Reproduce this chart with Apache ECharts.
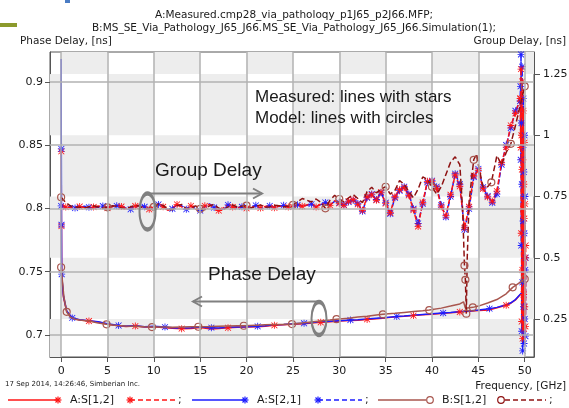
<!DOCTYPE html>
<html>
<head>
<meta charset="utf-8">
<title>Phase and group delay</title>
<script src="https://cdn.jsdelivr.net/npm/echarts@6/dist/echarts.min.js"></script>
<style>
  html, body { margin: 0; padding: 0; background: #fff; }
  #chart { width: 569px; height: 408px; }
</style>
</head>
<body>
<div id="chart"></div>
<script>
// tick labels
const xTicks = [0, 5, 10, 15, 20, 25, 30, 35, 40, 45, 50];
const phaseTicks = [0.7, 0.75, 0.8, 0.85, 0.9];
const groupTicks = [0.25, 0.5, 0.75, 1, 1.25];

// phase delay, measured (A) - left axis
const phaseFreqA = [0, 0.02, 0.04, 0.06, 0.25, 0.6, 1.2, 2, 3, 4, 5,
  6.2, 7, 8, 9, 10, 11.2, 12, 13, 14, 15, 16.2, 17, 18, 19, 20,
  21.2, 22, 23, 24, 25, 26.2, 27, 28, 29, 30, 31.2, 32, 33, 34, 35,
  36.2, 37, 38, 39, 40, 41.2, 42, 43, 44, 45, 46.2, 47, 48, 48.5, 49, 49.5, 50];
const phaseA21 = [0.918, 0.847, 0.787, 0.748, 0.731, 0.719, 0.7135, 0.712, 0.7112, 0.7105, 0.7088,
  0.7075, 0.707, 0.7072, 0.7065, 0.7068, 0.7062, 0.7058, 0.7053, 0.7057, 0.7062,
  0.7058, 0.7055, 0.706, 0.7063, 0.7065, 0.7068, 0.7073, 0.708, 0.7083, 0.7088,
  0.7092, 0.7098, 0.7104, 0.7108, 0.7113, 0.7118, 0.712, 0.7126, 0.7132, 0.7138,
  0.7146, 0.715, 0.7156, 0.7162, 0.7167, 0.7174, 0.7178, 0.7185, 0.719, 0.7197,
  0.7208, 0.7218, 0.7238, 0.7254, 0.728, 0.732, 0.736];
const phaseA12 = [0.845, 0.845, 0.786, 0.747, 0.730, 0.7185, 0.7132, 0.7118, 0.7110, 0.7102, 0.7085,
  0.7072, 0.7066, 0.7070, 0.7062, 0.7064, 0.7058, 0.7054, 0.7050, 0.7052, 0.7058,
  0.7048, 0.7051, 0.7057, 0.7060, 0.7062, 0.7064, 0.7069, 0.7076, 0.7080, 0.7085,
  0.7089, 0.7095, 0.7100, 0.7105, 0.7110, 0.7115, 0.7117, 0.7123, 0.7129, 0.7135,
  0.7143, 0.7147, 0.7153, 0.7159, 0.7164, 0.7171, 0.7175, 0.7182, 0.7187, 0.7194,
  0.7198, 0.7215, 0.7235, 0.7251, 0.7277, 0.7317, 0.7355];

// phase delay, model (B)
const phaseFreqB = [0, 0.3, 0.6, 1, 1.5, 2, 3, 4, 4.9, 6, 7, 8, 9, 9.8, 11, 12, 13, 14, 14.8,
  16, 17, 18, 19, 19.7, 21, 22, 23, 24, 24.9, 26, 27, 28, 29, 29.7, 31, 32, 33, 34, 34.7,
  36, 37, 38, 39, 39.7, 41, 42, 43, 43.4, 43.6, 44.4, 45, 46, 47, 48, 48.7, 49.5, 50];
const phaseB12 = [0.7535, 0.730, 0.7183, 0.714, 0.7125, 0.7118, 0.711, 0.7095, 0.7084,
  0.7075, 0.707, 0.7068, 0.7064, 0.7062, 0.7063, 0.706, 0.7062, 0.7064, 0.7065,
  0.7066, 0.7068, 0.707, 0.7072, 0.7073, 0.7077, 0.708, 0.7082, 0.7084, 0.7086,
  0.7095, 0.7103, 0.711, 0.7118, 0.7125, 0.7133, 0.7141, 0.7148, 0.7157, 0.7163,
  0.7171, 0.7178, 0.7185, 0.7192, 0.7197, 0.7212, 0.7228, 0.7245, 0.7262, 0.7212, 0.7218, 0.7228,
  0.7252, 0.728, 0.7325, 0.7376, 0.7415, 0.7442];
const modelMarksPhase = [0, 0.6, 4.9, 9.8, 14.8, 19.7, 24.9, 29.7, 34.7, 39.7, 44.4, 48.7, 50];

// group delay, measured (A) - right axis
const groupFreqA = [0, 0.5, 1, 1.5, 2, 2.5, 3, 3.5, 4, 4.5, 5, 5.5, 6, 6.5, 7, 7.5, 8, 8.5, 9, 9.5,
  10, 10.5, 11, 11.5, 12, 12.5, 13, 13.5, 14, 14.5, 15, 15.5, 16, 16.5, 17, 17.5, 18, 18.5, 19, 19.5,
  20, 20.5, 21, 21.5, 22, 22.5, 23, 23.5, 24, 24.5, 25, 25.5, 26, 26.5, 27, 27.5, 28, 28.5, 29, 29.5,
  30, 30.5, 31, 31.5, 32, 32.5, 33, 33.5, 34, 34.5, 35, 35.5, 36, 36.5, 37, 37.5, 38, 38.5, 39, 39.5,
  40, 40.5, 41, 41.5, 42, 42.5, 43, 43.5, 44, 44.5, 45, 45.5, 46, 46.5, 47, 47.5, 48, 48.5, 49, 49.5];
const groupA21 = [0.712, 0.705, 0.708, 0.703, 0.705, 0.710, 0.706, 0.702, 0.707, 0.711,
  0.706, 0.709, 0.712, 0.714, 0.702, 0.698, 0.706, 0.716, 0.708, 0.700,
  0.704, 0.718, 0.712, 0.696, 0.700, 0.716, 0.712, 0.698, 0.710, 0.701,
  0.693, 0.708, 0.720, 0.705, 0.694, 0.700, 0.716, 0.710, 0.703, 0.708,
  0.700, 0.706, 0.714, 0.701, 0.707, 0.712, 0.706, 0.709, 0.714, 0.709,
  0.708, 0.716, 0.712, 0.714, 0.719, 0.709, 0.717, 0.726, 0.716, 0.730,
  0.725, 0.716, 0.728, 0.735, 0.722, 0.690, 0.745, 0.760, 0.738, 0.765,
  0.725, 0.680, 0.745, 0.774, 0.790, 0.760, 0.700, 0.640, 0.720, 0.808,
  0.815, 0.790, 0.715, 0.666, 0.750, 0.843, 0.800, 0.615, 0.700, 0.830,
  0.863, 0.788, 0.752, 0.725, 0.760, 0.880, 0.960, 1.030, 1.100, 1.140];
const groupA12 = [0.716, 0.707, 0.704, 0.706, 0.709, 0.705, 0.702, 0.707, 0.711, 0.706,
  0.703, 0.708, 0.714, 0.709, 0.700, 0.702, 0.711, 0.714, 0.704, 0.698,
  0.708, 0.720, 0.708, 0.694, 0.704, 0.718, 0.708, 0.697, 0.712, 0.698,
  0.696, 0.712, 0.718, 0.701, 0.693, 0.704, 0.718, 0.707, 0.702, 0.711,
  0.702, 0.704, 0.712, 0.703, 0.709, 0.714, 0.704, 0.711, 0.712, 0.707,
  0.711, 0.718, 0.710, 0.716, 0.721, 0.707, 0.720, 0.723, 0.714, 0.733,
  0.722, 0.714, 0.731, 0.737, 0.718, 0.694, 0.748, 0.757, 0.735, 0.768,
  0.721, 0.684, 0.749, 0.778, 0.786, 0.755, 0.695, 0.628, 0.726, 0.812,
  0.811, 0.784, 0.708, 0.672, 0.757, 0.838, 0.792, 0.622, 0.708, 0.835,
  0.856, 0.782, 0.748, 0.731, 0.772, 0.888, 0.952, 1.040, 1.090, 1.150];
// the resonance right at 50 GHz
const spikeFreqA = [49.55, 49.575, 49.6, 49.625, 49.65, 49.675, 49.7, 49.725, 49.75, 49.775, 49.8, 49.825,
  49.85, 49.875, 49.9, 49.925, 49.95, 49.975, 50, 50.025, 50.05, 50.075, 50.1];
const spikeA21 = [1.20, 0.90, 1.33, 0.55, 1.05, 0.20, 0.80, 1.28, 0.40, 0.12, 0.95, 0.65,
  1.15, 0.30, 0.85, 0.15, 0.60, 1.00, 0.25, 0.75, 0.45, 0.18, 0.50];
const spikeA12 = [1.15, 0.95, 1.27, 0.60, 1.00, 0.24, 0.86, 1.22, 0.45, 0.17, 0.90, 0.70,
  1.10, 0.35, 0.80, 0.21, 0.66, 0.97, 0.30, 0.72, 0.50, 0.22, 0.55];

// group delay, model (B)
const groupFreqB = groupFreqA.slice(0, 87).concat([43.3, 43.5, 43.6, 43.7, 43.8, 44, 44.5, 44.8,
  45, 45.5, 46, 46.4, 47, 47.5, 48, 48.5, 49, 49.5, 50]);
const groupB12 = [0.747, 0.725, 0.712, 0.707, 0.706, 0.703, 0.708, 0.712, 0.707, 0.702,
  0.706, 0.712, 0.710, 0.703, 0.700, 0.708, 0.714, 0.710, 0.700, 0.702,
  0.708, 0.720, 0.714, 0.698, 0.696, 0.712, 0.718, 0.700, 0.703, 0.712,
  0.700, 0.696, 0.712, 0.718, 0.702, 0.697, 0.708, 0.716, 0.707, 0.710,
  0.713, 0.703, 0.710, 0.716, 0.706, 0.707, 0.714, 0.712, 0.707, 0.711,
  0.716, 0.728, 0.742, 0.735, 0.728, 0.740, 0.726, 0.702, 0.735, 0.755,
  0.740, 0.728, 0.745, 0.758, 0.742, 0.725, 0.770, 0.788, 0.765, 0.780,
  0.790, 0.760, 0.775, 0.815, 0.800, 0.770, 0.745, 0.780, 0.830, 0.820,
  0.790, 0.760, 0.790, 0.840, 0.890, 0.912, 0.880,
  0.700, 0.468, 0.410, 0.272, 0.500, 0.730, 0.900, 0.924,
  0.880, 0.790, 0.790, 0.808, 0.917, 0.880, 0.930, 0.965, 1.040, 1.120, 1.200];
const modelMarksGroup = [0, 5, 10, 15, 20, 25, 28.5, 30, 35, 40, 43.5, 43.6, 43.7, 44.5, 46.4, 48.5, 50];

// ---- styling ----
const RED = '#ff1414';
const BLUE = '#1c1cff';
const BROWN = '#a8564e';
const DARKRED = '#8e1212';
const FONT = '"DejaVu Sans", Arial, sans-serif';
const ARIAL = 'Arial, "Liberation Sans", sans-serif';
const STAR = 'path://M4.4,0H5.6V10H4.4Z M0,4.4H10V5.6H0Z M1.2,0.4L9.6,8.8L8.8,9.6L0.4,1.2Z M8.8,0.4L9.6,1.2L1.2,9.6L0.4,8.8Z';

const X_MIN = -1.2, X_MAX = 51;
const R_MIN = 0.095, R_MAX = 1.34;

function zip(xs, ys) { return xs.map((x, i) => [x, ys[i]]); }
function has(list, f) { return list.some(v => Math.abs(v - f) < 1e-6); }
function mod5(f, off) { const r = ((f - off) % 5 + 5) % 5; return r < 0.01 || r > 4.99; }

// checkerboard background cells, bounded by x ticks and right axis ticks
const cells = [];
for (let i = -1; i <= 10; i++) {
  for (let j = 0; j <= 5; j++) {
    if ((i + j) % 2 === 0) continue;
    const x1 = Math.max(i * 5, X_MIN), x2 = Math.min(i * 5 + 5, X_MAX);
    const y1 = Math.max(j * 0.25, R_MIN), y2 = Math.min(j * 0.25 + 0.25, R_MAX);
    if (x2 <= x1 || y2 <= y1) continue;
    cells.push([{ coord: [x1, y1] }, { coord: [x2, y2] }]);
  }
}

const gridLine = { color: '#b2b2b2', width: 1.5, type: 'solid' };
const GRAY = '#808080';

function starLegend(cx, cy, color) {
  const r = 3.5, d = 2.5;
  return {
    type: 'group', children: [
      { type: 'line', shape: { x1: cx - r, y1: cy, x2: cx + r, y2: cy }, style: { stroke: color, lineWidth: 1.2 } },
      { type: 'line', shape: { x1: cx, y1: cy - r, x2: cx, y2: cy + r }, style: { stroke: color, lineWidth: 1.2 } },
      { type: 'line', shape: { x1: cx - d, y1: cy - d, x2: cx + d, y2: cy + d }, style: { stroke: color, lineWidth: 1.2 } },
      { type: 'line', shape: { x1: cx - d, y1: cy + d, x2: cx + d, y2: cy - d }, style: { stroke: color, lineWidth: 1.2 } }
    ]
  };
}
function seg(x1, x2, y, color, dashed) {
  return { type: 'line', shape: { x1: x1, y1: y, x2: x2, y2: y },
    style: { stroke: color, lineWidth: 1.5, lineDash: dashed ? [5, 3] : null } };
}
function txt(x, y, s, size, align, family, color) {
  return { type: 'text', x: x, y: y, z: 100,
    style: { text: s, font: size + 'px ' + (family || FONT), fill: color || '#1a1a1a', align: align || 'left', verticalAlign: 'middle' } };
}

const LY = 400;
const graphic = [
  { type: 'rect', shape: { x: 0, y: 23, width: 17, height: 4 }, style: { fill: '#8c9a2c' } },
  { type: 'rect', shape: { x: 65, y: 0, width: 5, height: 3 }, style: { fill: '#4a7cc4' } },
  txt(294, 15, 'A:Measured.cmp28_via_patholoqy_p1J65_p2J66.MFP;', 10.5, 'center'),
  txt(294, 28, 'B:MS_SE_Via_Pathology_J65_J66.MS_SE_Via_Pathology_J65_J66.Simulation(1);', 10.5, 'center'),
  txt(20, 41, 'Phase Delay, [ns]', 10.5, 'left'),
  txt(566, 41, 'Group Delay, [ns]', 10.5, 'right'),
  txt(566, 386, 'Frequency, [GHz]', 10.5, 'right'),
  txt(5, 384, '17 Sep 2014, 14:26:46, Simberian Inc.', 7, 'left'),
  // annotations
  txt(255, 97, 'Measured: lines with stars', 17, 'left', ARIAL),
  txt(255, 118, 'Model: lines with circles', 17, 'left', ARIAL),
  txt(155, 171, 'Group Delay', 19, 'left', ARIAL),
  txt(208, 275, 'Phase Delay', 19, 'left', ARIAL),
  { type: 'line', z: 100, shape: { x1: 147, y1: 193.5, x2: 262, y2: 193.5 }, style: { stroke: GRAY, lineWidth: 2 } },
  { type: 'polyline', z: 100, shape: { points: [[253, 188.5], [262, 193.5], [253, 198.5]] }, style: { stroke: GRAY, lineWidth: 2, fill: null } },
  { type: 'circle', z: 100, x: 147.5, y: 211.5, scaleY: 2.25, shape: { cx: 0, cy: 0, r: 8 },
    style: { stroke: GRAY, lineWidth: 2, fill: null, strokeNoScale: true } },
  { type: 'line', z: 100, shape: { x1: 193, y1: 301.5, x2: 319, y2: 301.5 }, style: { stroke: GRAY, lineWidth: 2 } },
  { type: 'polyline', z: 100, shape: { points: [[202, 296.5], [193, 301.5], [202, 306.5]] }, style: { stroke: GRAY, lineWidth: 2, fill: null } },
  { type: 'circle', z: 100, x: 319, y: 318.5, scaleY: 2.2, shape: { cx: 0, cy: 0, r: 7.5 },
    style: { stroke: GRAY, lineWidth: 2, fill: null, strokeNoScale: true } },
  // legend
  seg(8, 58, LY, RED, false), starLegend(58, LY, RED), txt(70, LY, 'A:S[1,2]', 11),
  starLegend(130, LY, RED), seg(130, 175, LY, RED, true), txt(178, LY, ';', 11),
  seg(192, 245, LY, BLUE, false), starLegend(245, LY, BLUE), txt(257, LY, 'A:S[2,1]', 11),
  starLegend(318, LY, BLUE), seg(318, 362, LY, BLUE, true), txt(365, LY, ';', 11),
  seg(378, 426, LY, BROWN, false),
  { type: 'circle', shape: { cx: 430, cy: LY, r: 3.3 }, style: { stroke: BROWN, fill: '#fff', lineWidth: 1.2 } },
  txt(442, LY, 'B:S[1,2]', 11),
  { type: 'circle', shape: { cx: 501, cy: LY, r: 3.3 }, style: { stroke: DARKRED, fill: '#fff', lineWidth: 1.2 } },
  seg(505, 546, LY, DARKRED, true), txt(549, LY, ';', 11)
];

function measured(name, xs, ys, axis, color, dashed, starRule) {
  return {
    name: name, type: 'line', yAxisIndex: axis, data: zip(xs, ys), z: 3,
    symbol: STAR, symbolSize: (v, p) => (starRule(v[0], p.dataIndex) ? 7 : 0),
    lineStyle: { color: color, width: 1.5, type: dashed ? [5, 2] : 'solid' },
    itemStyle: { color: color }, emphasis: { disabled: true }
  };
}
function model(name, xs, ys, axis, color, dashed, marks) {
  return {
    name: name, type: 'line', yAxisIndex: axis, data: zip(xs, ys), z: 4,
    symbol: 'circle', symbolSize: (v) => (has(marks, v[0]) ? 7 : 0),
    lineStyle: { color: color, width: 1.5, type: dashed ? [6, 3] : 'solid' },
    itemStyle: { color: '#ffffff00', borderColor: BROWN, borderWidth: 1.2 }, emphasis: { disabled: true }
  };
}

const chart = echarts.init(document.getElementById('chart'));
chart.setOption({
  animation: false,
  backgroundColor: '#fff',
  grid: { left: 50, right: 35, top: 52, bottom: 51, show: true, borderColor: '#555', borderWidth: 1,
    containLabel: false, outerBoundsMode: 'none' },
  xAxis: {
    type: 'value', min: X_MIN, max: X_MAX,
    axisLine: { show: true, onZero: false, lineStyle: { color: '#555' } },
    axisTick: { show: true, length: 5, customValues: xTicks, lineStyle: { color: '#555' } },
    axisLabel: { customValues: xTicks, color: '#1a1a1a', fontFamily: FONT, fontSize: 11, margin: 9 },
    splitLine: { show: false }
  },
  yAxis: [{
    type: 'value', position: 'left', min: 0.6826, max: 0.9235,
    axisLine: { show: true, onZero: false, lineStyle: { color: '#555' } },
    axisTick: { show: true, length: 5, customValues: phaseTicks, lineStyle: { color: '#555' } },
    axisLabel: { customValues: phaseTicks, color: '#1a1a1a', fontFamily: FONT, fontSize: 11, margin: 7 },
    splitLine: { show: false }
  }, {
    type: 'value', position: 'right', min: R_MIN, max: R_MAX,
    axisLine: { show: true, onZero: false, lineStyle: { color: '#555' } },
    axisTick: { show: true, length: 6, customValues: groupTicks, lineStyle: { color: '#555' } },
    axisLabel: { customValues: groupTicks, color: '#1a1a1a', fontFamily: FONT, fontSize: 11, margin: 9 },
    splitLine: { show: false }
  }],
  graphic: graphic,
  series: [
    { type: 'line', yAxisIndex: 1, data: [], z: 1, silent: true,
      markArea: { silent: true, itemStyle: { color: '#ededed' }, data: cells },
      markLine: { silent: true, symbol: ['none', 'none'], label: { show: false }, lineStyle: gridLine,
        data: xTicks.map(v => ({ xAxis: v })) } },
    { type: 'line', yAxisIndex: 0, data: [], z: 1, silent: true,
      markLine: { silent: true, symbol: ['none', 'none'], label: { show: false }, lineStyle: gridLine,
        data: phaseTicks.map(v => ({ yAxis: v })) } },
    measured('A:S[1,2] phase', phaseFreqA, phaseA12, 0, RED, false,
      (f) => (f > 0 && f < 0.05) || mod5(f, 3)),
    measured('A:S[2,1] phase', phaseFreqA, phaseA21, 0, BLUE, false,
      (f) => (f > 0 && f < 0.1) || mod5(f, 1.2)),
    measured('A:S[2,1] group', groupFreqA.concat(spikeFreqA), groupA21.concat(spikeA21), 1, BLUE, true,
      (f, i) => f >= 30 || i % 3 === 0),
    measured('A:S[1,2] group', groupFreqA.concat(spikeFreqA), groupA12.concat(spikeA12), 1, RED, true,
      (f, i) => f >= 30 || i % 3 === 1),
    model('B:S[1,2] phase', phaseFreqB, phaseB12, 0, BROWN, false, modelMarksPhase),
    model('B:S[1,2] group', groupFreqB, groupB12, 1, DARKRED, true, modelMarksGroup)
  ]
});
</script>
</body>
</html>
